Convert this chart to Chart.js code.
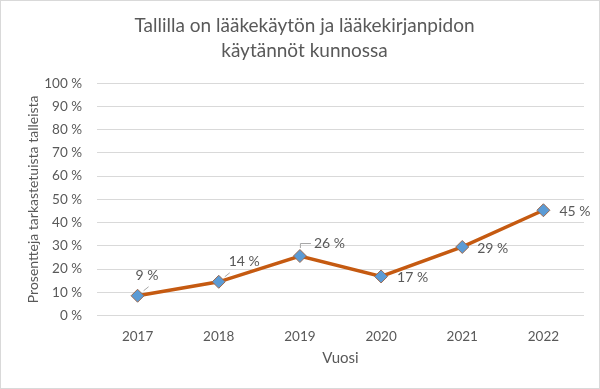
<!DOCTYPE html>
<html lang="fi">
<head>
  <meta charset="UTF-8" />
  <title>Tallilla on lääkekäytön ja lääkekirjanpidon käytännöt kunnossa</title>
  <script src="https://cdn.jsdelivr.net/npm/chart.js"></script>
  <style>
    html, body { margin: 0; padding: 0; background: #fff; }
    #wrap {
      width: 600px;
      height: 389px;
      box-sizing: border-box;
      border: 1px solid #d9d9d9;
    }
    canvas { display: block; }
  </style>
</head>
<body>
  <div id="wrap"><canvas id="chart" width="598" height="387"></canvas></div>
  <script>
    const years = ['2017', '2018', '2019', '2020', '2021', '2022'];
    const shares = [8.5, 14.5, 25.6, 16.8, 29.5, 45.3];
    const shareLabels = ['9 %', '14 %', '26 %', '17 %', '29 %', '45 %'];

    const FONT = "Lato, 'Open Sans', sans-serif";
    const TEXT = '#595959';

    // label placement relative to the point
    const labelLayout = [
      { dx: -2, dy: -20, leader: 'short' },
      { dx: 10, dy: -20, leader: 'short' },
      { dx: 14, dy: -13, leader: 'elbow' },
      { dx: 16, dy: 1 },
      { dx: 15, dy: 2 },
      { dx: 16, dy: 1 }
    ];

    const pointLabels = {
      id: 'pointLabels',
      afterDatasetsDraw(chart) {
        const ctx = chart.ctx;
        const meta = chart.getDatasetMeta(0);
        ctx.save();
        ctx.font = '14px ' + FONT;
        ctx.fillStyle = TEXT;
        ctx.textBaseline = 'middle';
        ctx.textAlign = 'left';
        meta.data.forEach((pt, i) => {
          const l = labelLayout[i];
          const x = pt.x + l.dx;
          const y = pt.y + l.dy;
          ctx.fillText(shareLabels[i], x, y);
          ctx.strokeStyle = '#a6a6a6';
          ctx.lineWidth = 1;
          ctx.beginPath();
          if (l.leader === 'elbow') {
            ctx.moveTo(pt.x + 0.5, pt.y - 8);
            ctx.lineTo(pt.x + 0.5, y + 0.5);
            ctx.lineTo(x - 3, y + 0.5);
          } else if (l.leader === 'short') {
            ctx.moveTo(pt.x + 6, pt.y - 5);
            ctx.lineTo(pt.x + 11, pt.y - 9);
          }
          ctx.stroke();
        });
        ctx.restore();
      }
    };

    new Chart(document.getElementById('chart'), {
      type: 'line',
      data: {
        labels: years,
        datasets: [{
          data: shares,
          borderColor: '#c55a11',
          borderWidth: 3.5,
          tension: 0,
          pointStyle: 'rectRot',
          pointRadius: 6.5,
          pointHoverRadius: 6.5,
          pointBackgroundColor: '#5b9bd5',
          pointBorderColor: '#9c6a50',
          pointBorderWidth: 1
        }]
      },
      options: {
        responsive: false,
        animation: false,
        events: [],
        layout: { autoPadding: false, padding: { left: 24, right: 15, top: 4, bottom: 17 } },
        plugins: {
          legend: { display: false },
          tooltip: { enabled: false },
          title: {
            display: true,
            text: ['Tallilla on lääkekäytön ja lääkekirjanpidon', 'käytännöt kunnossa'],
            color: TEXT,
            font: { family: FONT, size: 19, weight: 'normal', lineHeight: 1.32 },
            padding: { top: 8, bottom: 20 }
          }
        },
        scales: {
          x: {
            offset: true,
            grid: { display: false },
            border: { display: false },
            ticks: { color: TEXT, font: { family: FONT, size: 13.5, lineHeight: 1 }, padding: 6 },
            title: {
              display: true,
              text: 'Vuosi',
              color: TEXT,
              font: { family: FONT, size: 15 },
              padding: { top: 0 }
            }
          },
          y: {
            min: 0,
            max: 100,
            afterFit(scale) { scale.width = 72; },
            ticks: {
              stepSize: 10,
              color: TEXT,
              font: { family: FONT, size: 13.5 },
              padding: 15,
              callback: v => v + ' %'
            },
            grid: { color: '#d9d9d9', drawTicks: false },
            border: { display: false },
            title: {
              display: true,
              text: 'Prosentteja tarkastetuista talleista',
              color: TEXT,
              font: { family: FONT, size: 14 },
              padding: 0
            }
          }
        }
      },
      plugins: [pointLabels]
    });
  </script>
</body>
</html>
